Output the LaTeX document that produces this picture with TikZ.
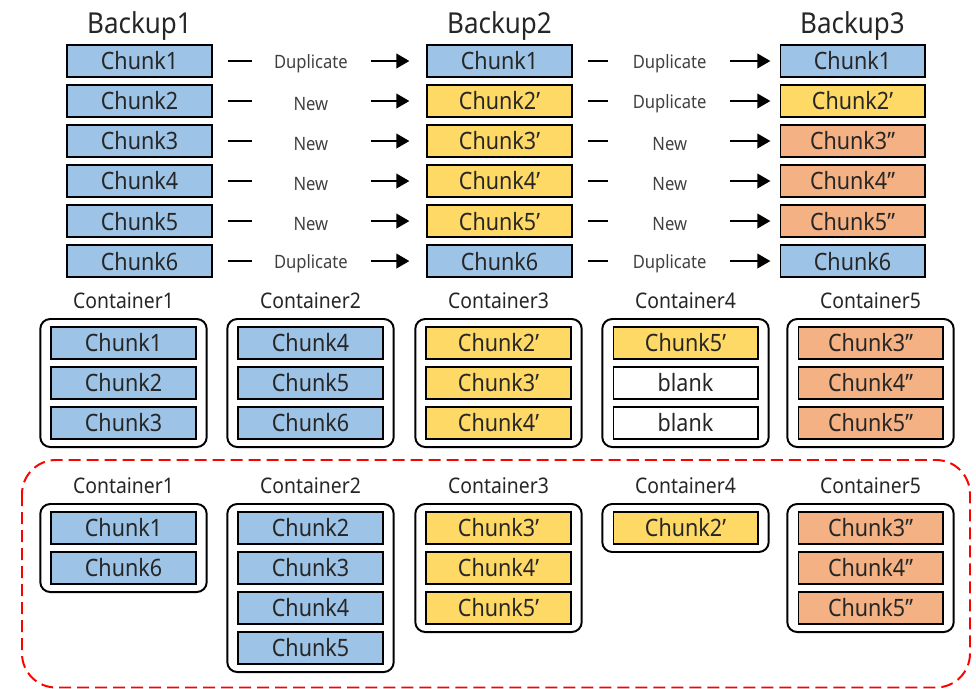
\documentclass[tikz,border=0pt]{standalone}
\usepackage{fontspec}
\setmainfont{Noto Sans}[FakeStretch=0.9]
\usetikzlibrary{positioning}
\usetikzlibrary{calc}
\usetikzlibrary{fit}
\usetikzlibrary{arrows.meta}

\definecolor{chunkblue}{HTML}{9DC3E6}
\definecolor{chunkyellow}{HTML}{FFD966}
\definecolor{chunkorange}{HTML}{F4B183}
\definecolor{inkgray}{HTML}{262626}

\begin{document}
\begin{tikzpicture}[
    x=0.025cm, y=-0.025cm,
    every node/.style={text=inkgray},
    chunk/.style={draw=black, line width=1.4pt, outer sep=0pt, minimum width=3.6cm, minimum height=0.8cm, inner sep=0pt, font=\fontsize{17}{18}\selectfont},
    oldchunk/.style={chunk, fill=chunkblue},
    modchunk/.style={chunk, fill=chunkyellow},
    newchunk/.style={chunk, fill=chunkorange},
    freechunk/.style={chunk, fill=white},
    container/.style={draw=black, line width=1.4pt, rounded corners=0.25cm, inner xsep=0.28cm, inner ysep=0.2cm},
    backuptitle/.style={font=\fontsize{20.5}{22}\selectfont, inner sep=1pt},
    boxtitle/.style={font=\fontsize{15.3}{16}\selectfont, inner sep=1pt},
    verdict/.style={font=\fontsize{13.1}{14}\selectfont, text=black!75, yshift=-2pt},
    stub/.style={line width=2pt},
    link/.style={line width=2pt, -{Triangle[length=0.33cm,width=0.36cm]}}
]
\useasboundingbox (0,0) rectangle (976,689);

% three backups
\node[oldchunk] (b1c1) at (139.5,61) {Chunk1};
\node[oldchunk, below=0.2cm of b1c1] (b1c2) {Chunk2};
\node[oldchunk, below=0.2cm of b1c2] (b1c3) {Chunk3};
\node[oldchunk, below=0.2cm of b1c3] (b1c4) {Chunk4};
\node[oldchunk, below=0.2cm of b1c4] (b1c5) {Chunk5};
\node[oldchunk, below=0.2cm of b1c5] (b1c6) {Chunk6};
\node[backuptitle, above=0.08cm of b1c1] {Backup1};

\node[oldchunk] (b2c1) at (499.5,61) {Chunk1};
\node[modchunk, below=0.2cm of b2c1] (b2c2) {Chunk2'};
\node[modchunk, below=0.2cm of b2c2] (b2c3) {Chunk3'};
\node[modchunk, below=0.2cm of b2c3] (b2c4) {Chunk4'};
\node[modchunk, below=0.2cm of b2c4] (b2c5) {Chunk5'};
\node[oldchunk, below=0.2cm of b2c5] (b2c6) {Chunk6};
\node[backuptitle, above=0.08cm of b2c1] {Backup2};

\node[oldchunk] (b3c1) at (852.5,61) {Chunk1};
\node[modchunk, below=0.2cm of b3c1] (b3c2) {Chunk2'};
\node[newchunk, below=0.2cm of b3c2] (b3c3) {Chunk3''};
\node[newchunk, below=0.2cm of b3c3] (b3c4) {Chunk4''};
\node[newchunk, below=0.2cm of b3c4] (b3c5) {Chunk5''};
\node[oldchunk, below=0.2cm of b3c5] (b3c6) {Chunk6};
\node[backuptitle, above=0.08cm of b3c1] {Backup3};

% dedup verdicts between backups
\foreach \r/\va/\vb in {1/Duplicate/Duplicate, 2/New/Duplicate, 3/New/New, 4/New/New, 5/New/New, 6/Duplicate/Duplicate} {
    \draw[stub] ([xshift=0.4cm]b1c\r.east) -- ([xshift=1cm]b1c\r.east);
    \node[verdict] at ($(b1c\r.east)!0.46!(b2c\r.west)$) {\va};
    \draw[link] ([xshift=-1.42cm]b2c\r.west) -- ([xshift=-0.45cm]b2c\r.west);
    \draw[stub] ([xshift=0.42cm]b2c\r.east) -- ([xshift=0.92cm]b2c\r.east);
    \node[verdict] at ($(b2c\r.east)!0.47!(b3c\r.west)$) {\vb};
    \draw[link] ([xshift=-1.25cm]b3c\r.west) -- ([xshift=-0.25cm]b3c\r.west);
}

% containers before rewriting
\node[oldchunk] (k1a) at (123.5,343) {Chunk1};
\node[oldchunk, below=0.2cm of k1a] (k1b) {Chunk2};
\node[oldchunk, below=0.2cm of k1b] (k1c) {Chunk3};
\node[container, fit=(k1a)(k1c)] (k1) {};
\node[boxtitle, above=0.2cm of k1] {Container1};

\node[oldchunk] (k2a) at (310.5,343) {Chunk4};
\node[oldchunk, below=0.2cm of k2a] (k2b) {Chunk5};
\node[oldchunk, below=0.2cm of k2b] (k2c) {Chunk6};
\node[container, fit=(k2a)(k2c)] (k2) {};
\node[boxtitle, above=0.2cm of k2] {Container2};

\node[modchunk] (k3a) at (498.5,343) {Chunk2'};
\node[modchunk, below=0.2cm of k3a] (k3b) {Chunk3'};
\node[modchunk, below=0.2cm of k3b] (k3c) {Chunk4'};
\node[container, fit=(k3a)(k3c)] (k3) {};
\node[boxtitle, above=0.2cm of k3] {Container3};

\node[modchunk] (k4a) at (685.5,343) {Chunk5'};
\node[freechunk, below=0.2cm of k4a] (k4b) {blank};
\node[freechunk, below=0.2cm of k4b] (k4c) {blank};
\node[container, fit=(k4a)(k4c)] (k4) {};
\node[boxtitle, above=0.2cm of k4] {Container4};

\node[newchunk] (k5a) at (870.5,343) {Chunk3''};
\node[newchunk, below=0.2cm of k5a] (k5b) {Chunk4''};
\node[newchunk, below=0.2cm of k5b] (k5c) {Chunk5''};
\node[container, fit=(k5a)(k5c)] (k5) {};
\node[boxtitle, above=0.2cm of k5] {Container5};

% containers after rewriting
\draw[red, line width=1.4pt, dash pattern=on 0.3cm off 0.15cm, rounded corners=0.85cm] (22,460) rectangle (970,687.5);

\node[oldchunk] (m1a) at (123.5,528) {Chunk1};
\node[oldchunk, below=0.2cm of m1a] (m1b) {Chunk6};
\node[container, fit=(m1a)(m1b)] (m1) {};
\node[boxtitle, above=0.2cm of m1] {Container1};

\node[oldchunk] (m2a) at (310.5,528) {Chunk2};
\node[oldchunk, below=0.2cm of m2a] (m2b) {Chunk3};
\node[oldchunk, below=0.2cm of m2b] (m2c) {Chunk4};
\node[oldchunk, below=0.2cm of m2c] (m2d) {Chunk5};
\node[container, fit=(m2a)(m2d)] (m2) {};
\node[boxtitle, above=0.2cm of m2] {Container2};

\node[modchunk] (m3a) at (498.5,528) {Chunk3'};
\node[modchunk, below=0.2cm of m3a] (m3b) {Chunk4'};
\node[modchunk, below=0.2cm of m3b] (m3c) {Chunk5'};
\node[container, fit=(m3a)(m3c)] (m3) {};
\node[boxtitle, above=0.2cm of m3] {Container3};

\node[modchunk] (m4a) at (685.5,528) {Chunk2'};
\node[container, fit=(m4a)] (m4) {};
\node[boxtitle, above=0.2cm of m4] {Container4};

\node[newchunk] (m5a) at (870.5,528) {Chunk3''};
\node[newchunk, below=0.2cm of m5a] (m5b) {Chunk4''};
\node[newchunk, below=0.2cm of m5b] (m5c) {Chunk5''};
\node[container, fit=(m5a)(m5c)] (m5) {};
\node[boxtitle, above=0.2cm of m5] {Container5};
\end{tikzpicture}
\end{document}
